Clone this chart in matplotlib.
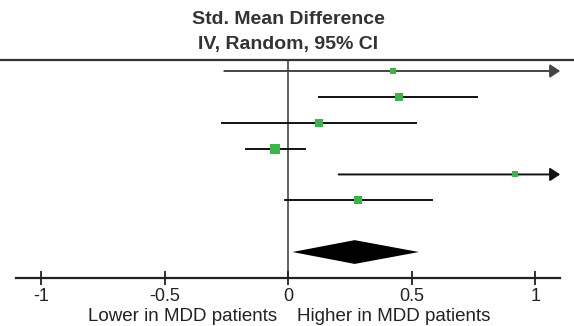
import numpy as np
import matplotlib
matplotlib.use("Agg")
import matplotlib.pyplot as plt

plt.rcParams['font.family'] = ['Liberation Sans', 'DejaVu Sans']

# study estimates (SMD) with 95% CI and weights (%)
smd = [0.425, 0.446, 0.125, -0.055, 0.916, 0.28]
ci_low = [-0.26, 0.125, -0.268, -0.174, 0.203, -0.013]
ci_high = [1.11, 0.765, 0.518, 0.065, 1.63, 0.58]
weights = [9.1, 18.3, 18.4, 27.4, 6.8, 20.0]

# pooled estimate
pooled = 0.268
pooled_low = 0.016
pooled_high = 0.528

ticks = [-1, -0.5, 0, 0.5, 1]
tick_labels = ["-1", "-0.5", "0", "0.5", "1"]

x_min, x_max = -1.168, 1.156
clip = 1.1
green = "#39b54a"

fig = plt.figure(figsize=(5.74, 3.26), dpi=100)
ax = fig.add_axes([0, 0, 1, 1])
ax.set_xlim(x_min, x_max)
ax.set_ylim(10.86, -1.745)

rows = np.arange(1, len(smd) + 1)
axis_y = 9
pooled_y = 8

# header
ax.text(0, -1.0, "Std. Mean Difference", ha="center", va="center",
        fontsize=14, fontweight="bold", color="#333333")
ax.text(0, -0.03, "IV, Random, 95% CI", ha="center", va="center",
        fontsize=14, fontweight="bold", color="#333333")
ax.axhline(0.575, color="#333333", lw=1.6)

# line of no effect
ax.plot([0, 0], [0.575, axis_y], color="#555555", lw=1.3, zorder=1)

for y, m, lo, hi, w in zip(rows, smd, ci_low, ci_high, weights):
    if hi > clip:
        lc = "#444444" if y == 1 else "#111111"
        ax.annotate("", xy=(clip, y), xytext=(lo, y),
                    arrowprops=dict(arrowstyle="-|>,head_length=0.5,head_width=0.33",
                                    color=lc, lw=1.4,
                                    mutation_scale=12, shrinkA=0, shrinkB=0))
    else:
        ax.plot([lo, hi], [y, y], color="#111111", lw=1.4, zorder=2)
    side = np.sqrt(w) * 1.97 * 0.72
    ax.plot(m, y, marker="s", ms=side, color=green, mec=green, mew=0, zorder=3)

# pooled diamond
ax.fill([pooled_low, pooled, pooled_high, pooled],
        [pooled_y, pooled_y - 0.46, pooled_y, pooled_y + 0.46],
        color="black", lw=0, zorder=3)

# x axis
for s in ["left", "right", "top"]:
    ax.spines[s].set_visible(False)
ax.spines["bottom"].set_position(("data", axis_y))
ax.spines["bottom"].set_bounds(-1.103, 1.099)
ax.spines["bottom"].set_linewidth(1.6)
ax.spines["bottom"].set_color("#222222")
ax.set_yticks([])
ax.set_xticks(ticks)
ax.set_xticklabels(tick_labels)
ax.tick_params(axis="x", direction="inout", length=10, width=1.3,
               color="#222222", labelsize=13, pad=2.5, labelcolor="#222222")

ax.text(-0.047, 10.5, "Lower in MDD patients", ha="right", va="center",
        fontsize=13.5, color="#222222")
ax.text(0.034, 10.5, "Higher in MDD patients", ha="left", va="center",
        fontsize=13.5, color="#222222")

fig.savefig("out.png", dpi=100)
